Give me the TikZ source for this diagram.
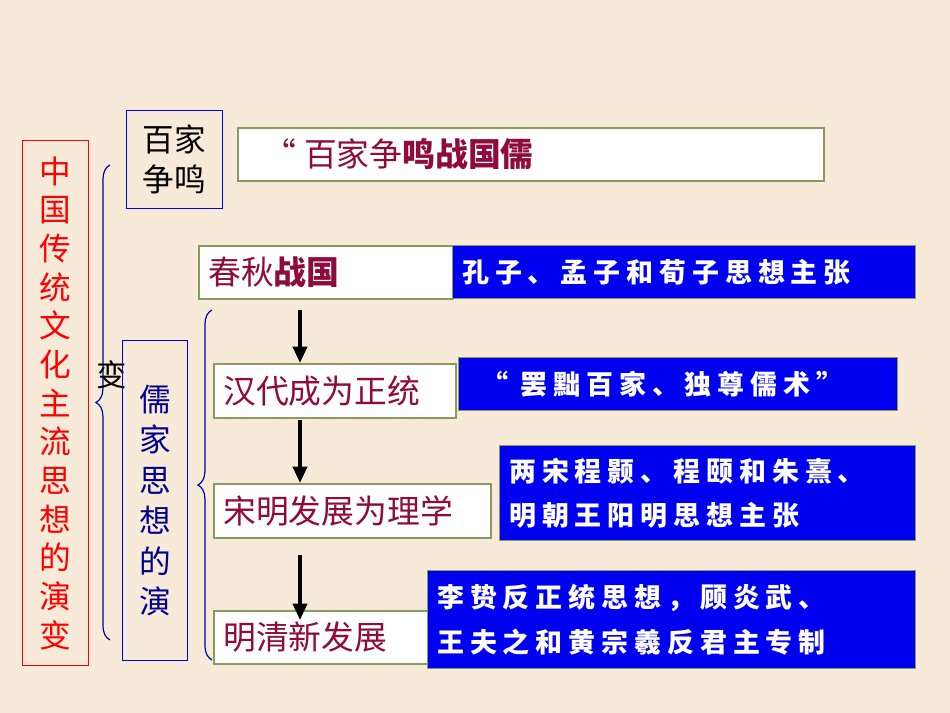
\documentclass[tikz,border=0pt]{standalone}
\usepackage{fontspec}
\setmainfont{Noto Sans CJK SC}
\usetikzlibrary{positioning,arrows.meta,decorations.pathreplacing}
\definecolor{bgc}{HTML}{F7EAD8}
\definecolor{wine}{HTML}{8E0B3C}
\definecolor{olive}{HTML}{8A9A5B}
\definecolor{bblue}{HTML}{0000F0}
\tikzset{
  wbox/.style={draw=olive,line width=1.5pt,fill=white,anchor=north west,inner sep=0pt},
  bbox/.style={draw=olive,line width=1pt,fill=bblue,anchor=north west,inner sep=0pt},
  wtxt/.style={text=wine,font=\fontsize{28}{30}\selectfont,anchor=west,inner sep=0pt},
  btxt/.style={text=white,font=\fontsize{23}{38}\selectfont\bfseries\addfontfeature{LetterSpace=22},align=left,anchor=west,inner sep=0pt},
  darr/.style={-{Triangle[length=14pt,width=12pt]},line width=3pt},
}
\begin{document}
\begin{tikzpicture}[x=0.03cm,y=-0.03cm]
  \fill[bgc] (0,0) rectangle (950,713);
  % left title
  \node[draw=red,line width=1pt,minimum width=66*0.03cm,minimum height=525*0.03cm,anchor=north west] (ntitle) at (22,140) {};
  \node[text=red,font=\fontsize{27}{33}\selectfont,align=center] at (ntitle) {中\\国\\传\\统\\文\\化\\主\\流\\思\\想\\的\\演\\变};
  \draw[bblue!70!black,line width=1pt,decorate,decoration={brace,amplitude=12pt,mirror}] (110,165) -- (110,640);
  \node[font=\fontsize{26}{28}\selectfont] (nbian) at (112,375) {变};
  % upper branch
  \node[draw=bblue,line width=1pt,minimum width=96*0.03cm,minimum height=98*0.03cm,anchor=north west] (nbaijia) at (126,110) {};
  \node[font=\fontsize{27}{34}\selectfont,align=center] at (nbaijia) {百家\\争鸣};
  \node[wbox,minimum width=586*0.03cm,minimum height=53*0.03cm] (nzm) at (237,127) {};
  \node[wtxt] (nzmt) at ([xshift=0.8cm]nzm.west) {“ 百家争\textbf{鸣战国儒}};
  % lower branch
  \node[draw=bblue,line width=1pt,minimum width=65*0.03cm,minimum height=320*0.03cm,anchor=north west] (nrujia) at (122,340) {};
  \node[text=bblue!60!black,font=\fontsize{27}{34.5}\selectfont,align=center] at (nrujia) {儒\\家\\思\\想\\的\\演};
  \draw[bblue!70!black,line width=1pt,decorate,decoration={brace,amplitude=12pt,mirror}] (212,310) -- (212,660);
  % stage boxes
  \node[wbox,minimum width=254*0.03cm,minimum height=53*0.03cm] (ncq) at (198,245) {};
  \node[wtxt] (ncqt) at ([xshift=0.3cm]ncq.west) {春秋\textbf{战国}};
  \node[bbox,minimum width=463*0.03cm,minimum height=53*0.03cm] (ncqb) at (452,245) {};
  \node[btxt] at ([xshift=0.3cm]ncqb.west) {孔子、孟子和荀子思想主张};
  \node[wbox,minimum width=242*0.03cm,minimum height=54*0.03cm] (nhan) at (213,363) {};
  \node[wtxt] at ([xshift=0.3cm]nhan.west) {汉代成为正统};
  \node[bbox,minimum width=439*0.03cm,minimum height=53*0.03cm] (nhanb) at (458,357) {};
  \node[btxt] at ([xshift=0.7cm]nhanb.west) {“ 罢黜百家、独尊儒术”};
  \node[wbox,minimum width=277*0.03cm,minimum height=54*0.03cm] (nsong) at (213,483) {};
  \node[wtxt] at ([xshift=0.3cm]nsong.west) {宋明发展为理学};
  \node[bbox,minimum width=416*0.03cm,minimum height=95*0.03cm] (nsongb) at (499,445) {};
  \node[btxt] at ([xshift=0.3cm]nsongb.west) {两宋程颢、程颐和朱熹、\\明朝王阳明思想主张};
  \node[wbox,minimum width=217*0.03cm,minimum height=53*0.03cm] (nming) at (213,610) {};
  \node[wtxt] at ([xshift=0.3cm]nming.west) {明清新发展};
  \node[bbox,minimum width=488*0.03cm,minimum height=98*0.03cm] (nmingb) at (427,570) {};
  \node[btxt] at ([xshift=0.3cm]nmingb.west) {李贽反正统思想，顾炎武、\\王夫之和黄宗羲反君主专制};
  % arrows
  \coordinate (a1) at (300,310); \coordinate (a2) at (300,420); \coordinate (a3) at (300,555);
  \draw[darr] (a1) -- (a1 |- nhan.north);
  \draw[darr] (a2) -- (a2 |- nsong.north);
  \draw[darr] (a3) -- ([yshift=-0.3cm]a3 |- nming.north);
\end{tikzpicture}
\end{document}
